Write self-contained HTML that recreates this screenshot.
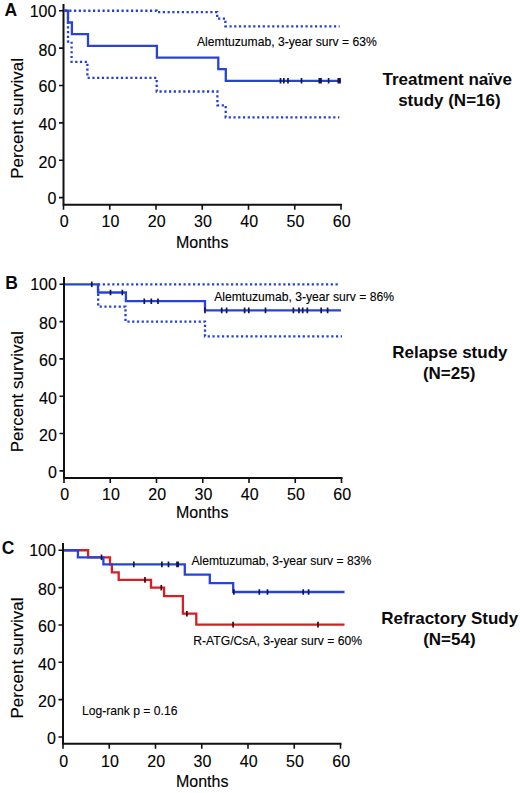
<!DOCTYPE html><html><head><meta charset="utf-8"><style>html,body{margin:0;padding:0;background:#fff;}svg{display:block;}text{font-family:"Liberation Sans",sans-serif;fill:#000;stroke:#000;stroke-width:0.12px;}text[font-weight=bold]{stroke-width:0;fill:#0a0a0a;}</style></head><body>
<svg width="520" height="793" viewBox="0 0 520 793">
<rect width="520" height="793" fill="#fff"/>
<path d="M63.5,4V205.8M62.5,204.8H342" stroke="#111" stroke-width="2" fill="none"/>
<path d="M59,10.75H63.5M59,48.12H63.5M59,85.49H63.5M59,122.86H63.5M59,160.23H63.5M59,197.6H63.5M63.5,204.8V209.8M109.75,204.8V209.8M156,204.8V209.8M202.25,204.8V209.8M248.5,204.8V209.8M294.75,204.8V209.8M341,204.8V209.8" stroke="#111" stroke-width="1.6" fill="none"/>
<text x="56.4" y="16.7" font-size="16" text-anchor="end">100</text>
<text x="56.4" y="55.77" font-size="16" text-anchor="end">80</text>
<text x="56.4" y="92.19" font-size="16" text-anchor="end">60</text>
<text x="56.4" y="130.31" font-size="16" text-anchor="end">40</text>
<text x="56.4" y="167.58" font-size="16" text-anchor="end">20</text>
<text x="56.4" y="204.35" font-size="16" text-anchor="end">0</text>
<text x="64.2" y="227.2" font-size="16" text-anchor="middle">0</text>
<text x="110.45" y="227.2" font-size="16" text-anchor="middle">10</text>
<text x="156.7" y="227.2" font-size="16" text-anchor="middle">20</text>
<text x="202.95" y="227.2" font-size="16" text-anchor="middle">30</text>
<text x="249.2" y="227.2" font-size="16" text-anchor="middle">40</text>
<text x="295.45" y="227.2" font-size="16" text-anchor="middle">50</text>
<text x="341.7" y="227.2" font-size="16" text-anchor="middle">60</text>
<text x="202.2" y="248.4" font-size="16" text-anchor="middle">Months</text>
<text transform="translate(22.7,118.4) rotate(-90)" font-size="17" text-anchor="middle">Percent survival</text>
<text x="4.6" y="15.8" font-size="17.5" font-weight="bold">A</text>
<path d="M64,277V478.9M63,477.9H342.5" stroke="#111" stroke-width="2" fill="none"/>
<path d="M59.5,284.25H64M59.5,321.58H64M59.5,358.91H64M59.5,396.24H64M59.5,433.57H64M59.5,470.9H64M64,477.9V482.9M110.25,477.9V482.9M156.5,477.9V482.9M202.75,477.9V482.9M249,477.9V482.9M295.25,477.9V482.9M341.5,477.9V482.9" stroke="#111" stroke-width="1.6" fill="none"/>
<text x="56.9" y="290.2" font-size="16" text-anchor="end">100</text>
<text x="56.9" y="329.23" font-size="16" text-anchor="end">80</text>
<text x="56.9" y="365.61" font-size="16" text-anchor="end">60</text>
<text x="56.9" y="403.69" font-size="16" text-anchor="end">40</text>
<text x="56.9" y="440.92" font-size="16" text-anchor="end">20</text>
<text x="56.9" y="477.65" font-size="16" text-anchor="end">0</text>
<text x="64.7" y="500.4" font-size="16" text-anchor="middle">0</text>
<text x="110.95" y="500.4" font-size="16" text-anchor="middle">10</text>
<text x="157.2" y="500.4" font-size="16" text-anchor="middle">20</text>
<text x="203.45" y="500.4" font-size="16" text-anchor="middle">30</text>
<text x="249.7" y="500.4" font-size="16" text-anchor="middle">40</text>
<text x="295.95" y="500.4" font-size="16" text-anchor="middle">50</text>
<text x="342.2" y="500.4" font-size="16" text-anchor="middle">60</text>
<text x="202.2" y="518" font-size="16" text-anchor="middle">Months</text>
<text transform="translate(22.7,391.8) rotate(-90)" font-size="17" text-anchor="middle">Percent survival</text>
<text x="5.3" y="288.6" font-size="17.5" font-weight="bold">B</text>
<path d="M63,543V744.8M62,743.8H341.5" stroke="#111" stroke-width="2" fill="none"/>
<path d="M58.5,550.25H63M58.5,587.6H63M58.5,624.95H63M58.5,662.3H63M58.5,699.65H63M58.5,737H63M63,743.8V748.8M109.25,743.8V748.8M155.5,743.8V748.8M201.75,743.8V748.8M248,743.8V748.8M294.25,743.8V748.8M340.5,743.8V748.8" stroke="#111" stroke-width="1.6" fill="none"/>
<text x="55.9" y="556.2" font-size="16" text-anchor="end">100</text>
<text x="55.9" y="595.25" font-size="16" text-anchor="end">80</text>
<text x="55.9" y="631.65" font-size="16" text-anchor="end">60</text>
<text x="55.9" y="669.75" font-size="16" text-anchor="end">40</text>
<text x="55.9" y="707" font-size="16" text-anchor="end">20</text>
<text x="55.9" y="743.75" font-size="16" text-anchor="end">0</text>
<text x="63.7" y="766.6" font-size="16" text-anchor="middle">0</text>
<text x="109.95" y="766.6" font-size="16" text-anchor="middle">10</text>
<text x="156.2" y="766.6" font-size="16" text-anchor="middle">20</text>
<text x="202.45" y="766.6" font-size="16" text-anchor="middle">30</text>
<text x="248.7" y="766.6" font-size="16" text-anchor="middle">40</text>
<text x="294.95" y="766.6" font-size="16" text-anchor="middle">50</text>
<text x="341.2" y="766.6" font-size="16" text-anchor="middle">60</text>
<text x="202.2" y="787.4" font-size="16" text-anchor="middle">Months</text>
<text transform="translate(22.7,658) rotate(-90)" font-size="17" text-anchor="middle">Percent survival</text>
<text x="1.8" y="554.2" font-size="17.5" font-weight="bold">C</text>
<path d="M64.5,10.75H156.6V12.2H217.2V18.7H225.4V26.3H339.6" stroke="#2440d0" stroke-width="2.3" stroke-dasharray="2.2 2.55" fill="none"/>
<path d="M64.5,10.75H68V41.5H71.6V61.8H87.4V77.9H156.7V91.5H217.4V105.3H225.7V117.3H339.3" stroke="#2440d0" stroke-width="2.3" stroke-dasharray="2.2 2.55" fill="none"/>
<path d="M64.5,10.75H68V22.5H71.9V34.2H88V45.8H156.9V57.6H218.3V69.2H225.8V80.8H340.8" stroke="#2844d8" stroke-width="2.3" fill="none" stroke-linejoin="miter"/>
<path d="M280.5,78V83.6M283.8,78V83.6M288,78V83.6M301.5,78V83.6M319.3,78V83.6M321,78V83.6M328.6,78V83.6M338.3,78V83.6M340,78V83.6" stroke="#141450" stroke-width="1.7" fill="none"/>
<path d="M98,284.3H339" stroke="#2440d0" stroke-width="2.3" stroke-dasharray="2.2 2.55" fill="none"/>
<path d="M98.2,284.3V306.6H125.5V321.6H205V336.3H342" stroke="#2440d0" stroke-width="2.3" stroke-dasharray="2.2 2.55" fill="none"/>
<path d="M65,284.3H98V292.5H125.9V301.2H205V310.4H341" stroke="#2844d8" stroke-width="2.3" fill="none" stroke-linejoin="miter"/>
<path d="M91.8,281.5V287.1" stroke="#141450" stroke-width="1.7" fill="none"/>
<path d="M110.5,289.7V295.3M122.3,289.7V295.3" stroke="#141450" stroke-width="1.7" fill="none"/>
<path d="M144.3,298.4V304M151.3,298.4V304M158,298.4V304" stroke="#141450" stroke-width="1.7" fill="none"/>
<path d="M205,307.6V313.2M221.7,307.6V313.2M226.6,307.6V313.2M244.6,307.6V313.2M248.8,307.6V313.2M265.5,307.6V313.2M293.4,307.6V313.2M299,307.6V313.2M302.7,307.6V313.2M307.3,307.6V313.2M321.2,307.6V313.2M327.6,307.6V313.2" stroke="#141450" stroke-width="1.7" fill="none"/>
<path d="M64,550.25H88.1V557.3H110V564.4H111.9V572.4H118.7V579.9H151V587.7H164.1V596.2H182.9V613.7H196.3V624.6H344.5" stroke="#d61e24" stroke-width="2.3" fill="none" stroke-linejoin="miter"/>
<path d="M64,550.25H77.9V557.3H103.4V564.4H184.8V574.6H209.8V583.1H233.2V592H344.5" stroke="#2844d8" stroke-width="2.3" fill="none" stroke-linejoin="miter"/>
<path d="M101.5,554.5V560.1" stroke="#141450" stroke-width="1.7" fill="none"/>
<path d="M133.8,561.6V567.2M161.9,561.6V567.2M168.5,561.6V567.2M177,561.6V567.2M178.2,561.6V567.2" stroke="#141450" stroke-width="1.7" fill="none"/>
<path d="M233.9,589.2V594.8M259.3,589.2V594.8M267.5,589.2V594.8M303.2,589.2V594.8M308.6,589.2V594.8" stroke="#141450" stroke-width="1.7" fill="none"/>
<path d="M145,577.1V582.7" stroke="#400000" stroke-width="1.7" fill="none"/>
<path d="M161.3,584.9V590.5" stroke="#400000" stroke-width="1.7" fill="none"/>
<path d="M186.9,610.9V616.5" stroke="#400000" stroke-width="1.7" fill="none"/>
<path d="M233.1,621.8V627.4M318,621.8V627.4" stroke="#400000" stroke-width="1.7" fill="none"/>
<text x="197" y="45.7" font-size="12.15">Alemtuzumab, 3-year surv = 63%</text>
<text x="214.2" y="300.9" font-size="12.15">Alemtuzumab, 3-year surv = 86%</text>
<text x="191.4" y="565" font-size="12.15">Alemtuzumab, 3-year surv = 83%</text>
<text x="193.3" y="644.7" font-size="12.15">R-ATG/CsA, 3-year surv = 60%</text>
<text x="81.9" y="714.7" font-size="12.15">Log-rank p = 0.16</text>
<text x="447.2" y="84.8" font-size="17" font-weight="bold" text-anchor="middle">Treatment na&#239;ve</text><text x="449.4" y="105.5" font-size="17" font-weight="bold" text-anchor="middle">study (N=16)</text>
<text x="449.85" y="357.8" font-size="17" font-weight="bold" text-anchor="middle">Relapse study</text><text x="449.1" y="378.8" font-size="17" font-weight="bold" text-anchor="middle">(N=25)</text>
<text x="449.7" y="623.8" font-size="17" font-weight="bold" text-anchor="middle">Refractory Study</text><text x="449.4" y="644.7" font-size="17" font-weight="bold" text-anchor="middle">(N=54)</text>
</svg></body></html>
